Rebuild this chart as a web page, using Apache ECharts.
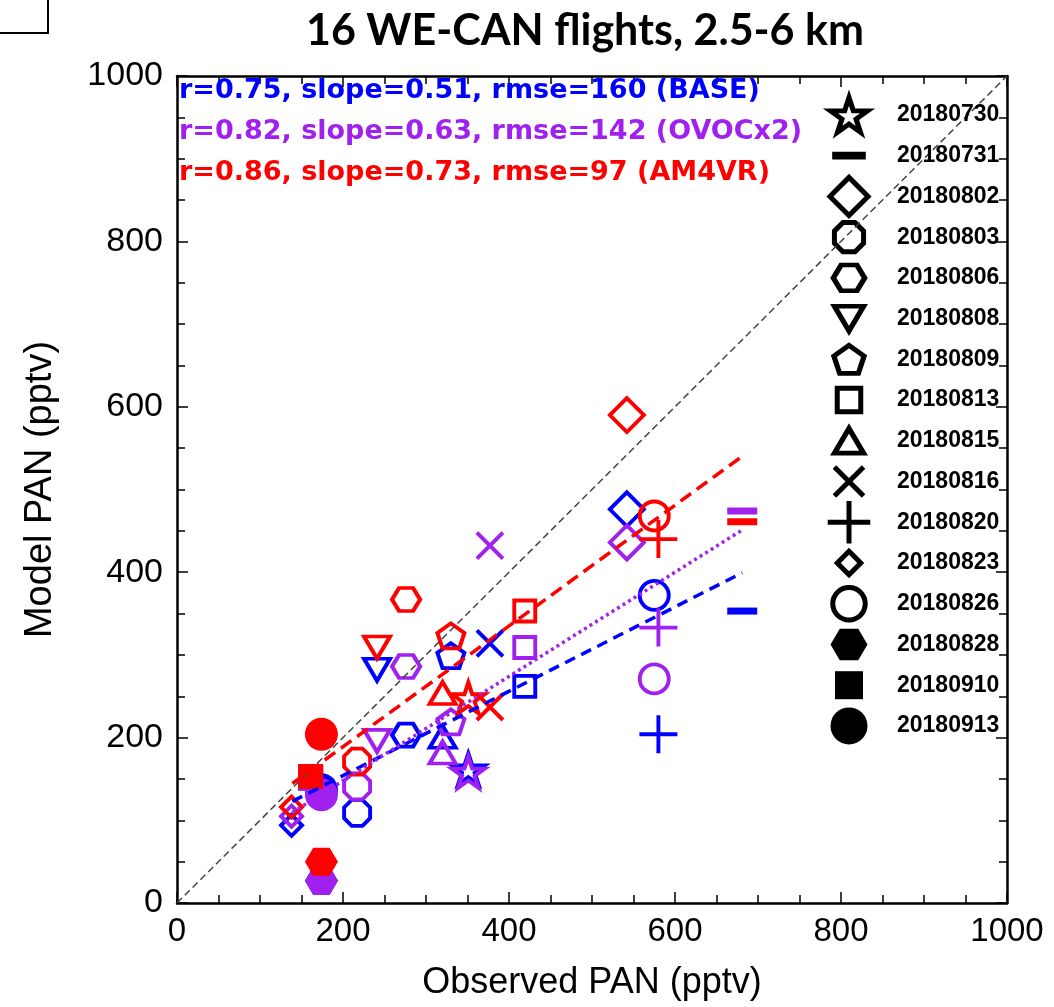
<!DOCTYPE html>
<html>
<head>
<meta charset="utf-8">
<script src="https://cdn.jsdelivr.net/npm/echarts@6.0.0/dist/echarts.min.js"></script>
<style>
  html, body { margin: 0; padding: 0; background: #fff; }
  #chart { width: 1054px; height: 1007px; }
</style>
</head>
<body>
<div id="chart"></div>
<script>
// WE-CAN flights (2.5-6 km): observed vs modelled PAN, one marker shape per flight
const flights = ['20180730', '20180731', '20180802', '20180803', '20180806', '20180808',
  '20180809', '20180813', '20180815', '20180816', '20180820', '20180823',
  '20180826', '20180828', '20180910', '20180913'];
const flightMarkers = ['star', 'dash', 'diamond', 'octagon', 'hexagon', 'triangleDown',
  'pentagon', 'square', 'triangle', 'cross', 'plus', 'diamondSmall',
  'circle', 'hexagonFilled', 'squareFilled', 'circleFilled'];

// observed PAN (pptv), shared by all model runs
const observed = [351, 681, 542, 217, 276, 241, 330, 419, 320, 377, 580, 138, 575, 174, 161, 174];
// modelled PAN (pptv) per run
const baseModel  = [162, 353, 476, 109, 203, 282, 299, 262, 201, 314, 204, 94, 372, 27, 151, 137];
const ovocModel  = [158, 474, 436, 141, 286, 196, 219, 309, 182, 432, 333, 105, 271, 27, 151, 131];
const am4vrModel = [248, 461, 590, 171, 367, 309, 323, 353, 254, 237, 440, 116, 468, 50, 153, 204];

// fit statistics reported for each run
const runNames = ['BASE', 'OVOCx2', 'AM4VR'];
const fitR = [0.75, 0.82, 0.86];
const fitSlope = [0.51, 0.63, 0.73];
const fitIntercept = [52, 22, 43];
const fitRmse = [160, 142, 97];
const fitRange = [139, 681];

const axisTicks = [0, 200, 400, 600, 800, 1000];

const runColors = ['#0000FF', '#A020F0', '#FF0000'];

const MARKERS = {
  star:          { symbol: 'path://M50 0L61.23 34.55L97.55 34.55L68.16 55.9L79.39 90.45L50 69.1L20.61 90.45L31.84 55.9L2.45 34.55L38.77 34.55Z', size: [33, 31], filled: false },
  dash:          { symbol: 'rect', size: [30, 7], filled: true },
  diamond:       { symbol: 'diamond', size: [34, 34], filled: false },
  octagon:       { symbol: 'path://M29.3 0L70.7 0L100 29.3L100 70.7L70.7 100L29.3 100L0 70.7L0 29.3Z', size: [26, 26], filled: false },
  hexagon:       { symbol: 'path://M25 0L75 0L100 43.3L75 86.6L25 86.6L0 43.3Z', size: [28, 23], filled: false },
  triangleDown:  { symbol: 'path://M0 0L100 0L50 86.6Z', size: [26, 22], filled: false },
  pentagon:      { symbol: 'path://M50 0L97.55 34.55L79.39 90.45L20.61 90.45L2.45 34.55Z', size: [27, 25], filled: false },
  square:        { symbol: 'rect', size: [21, 21], filled: false },
  triangle:      { symbol: 'path://M50 0L100 86.6L0 86.6Z', size: [26, 22], filled: false },
  cross:         { symbol: 'path://M0 0L100 100M100 0L0 100', size: [26, 26], filled: false },
  plus:          { symbol: 'path://M50 0L50 100M0 50L100 50', size: [38, 38], filled: false },
  diamondSmall:  { symbol: 'diamond', size: [21, 21], filled: false },
  circle:        { symbol: 'circle', size: [29, 29], filled: false },
  hexagonFilled: { symbol: 'path://M25 0L75 0L100 43.3L75 86.6L25 86.6L0 43.3Z', size: [33, 28], filled: true },
  squareFilled:  { symbol: 'rect', size: [25, 25], filled: true },
  circleFilled:  { symbol: 'circle', size: [33, 33], filled: true }
};

function markerStyle(key, color, scale, stroke) {
  const m = MARKERS[key];
  return {
    symbol: m.symbol,
    symbolSize: m.size.map(v => v * scale),
    itemStyle: m.filled
      ? { color: color, borderWidth: 0, opacity: 1 }
      : { color: 'rgba(0,0,0,0)', borderColor: color, borderWidth: stroke, opacity: 1 }
  };
}

function runScatter(values, idx) {
  return {
    type: 'scatter', name: runNames[idx], xAxisIndex: 0, yAxisIndex: 0,
    silent: true, animation: false,
    data: observed.map((x, i) => Object.assign({ value: [x, values[i]] },
      markerStyle(flightMarkers[i], runColors[idx], 1, 3.9)))
  };
}

function fitLine(idx, dash, width) {
  return {
    type: 'line', xAxisIndex: 0, yAxisIndex: 0, silent: true, animation: false,
    symbol: 'none',
    data: fitRange.map(x => [x, fitIntercept[idx] + fitSlope[idx] * x]),
    lineStyle: { color: runColors[idx], width: width, type: dash, cap: 'butt' }
  };
}

const FONT = 'Liberation Sans, Arial, sans-serif';

function frameAxis(extra) {
  return Object.assign({
    type: 'value', min: axisTicks[0], max: axisTicks[axisTicks.length - 1],
    interval: axisTicks[1] - axisTicks[0],
    axisLine: { show: true, onZero: false, lineStyle: { color: '#000', width: 2.5 } },
    axisTick: { show: true, inside: true, length: 11, lineStyle: { color: '#000', width: 1.5 } },
    minorTick: { show: true, splitNumber: 4, length: 8, lineStyle: { color: '#000', width: 1.5 } },
    splitLine: { show: false },
    minorSplitLine: { show: false }
  }, extra);
}

const plainNumber = v => String(v);

const statsLines = runNames.map((n, i) =>
  'r=' + fitR[i].toFixed(2) + ', slope=' + fitSlope[i].toFixed(2) + ', rmse=' + fitRmse[i] + ' (' + n + ')');

const chart = echarts.init(document.getElementById('chart'), null, { renderer: 'canvas' });

chart.setOption({
  backgroundColor: '#fff',
  animation: false,
  grid: [
    { left: 177, top: 76, width: 830, height: 827, show: false },
    { left: 820, top: 94.6, width: 58, height: 651.7, show: false }
  ],
  xAxis: [
    frameAxis({
      gridIndex: 0, position: 'bottom',
      axisLabel: { show: true, fontFamily: FONT, fontSize: 33, color: '#000', margin: 12, formatter: plainNumber },
      name: 'Observed PAN (pptv)', nameLocation: 'middle', nameGap: 62,
      nameTextStyle: { fontFamily: FONT, fontSize: 36, color: '#000' }
    }),
    frameAxis({ gridIndex: 0, position: 'top', axisLabel: { show: false } }),
    { gridIndex: 1, type: 'value', min: 0, max: 1, show: false }
  ],
  yAxis: [
    frameAxis({
      gridIndex: 0, position: 'left',
      axisLabel: { show: true, fontFamily: FONT, fontSize: 34, color: '#000', margin: 14, formatter: plainNumber },
      name: 'Model PAN (pptv)', nameLocation: 'middle', nameGap: 117, nameRotate: 90,
      nameTextStyle: { fontFamily: FONT, fontSize: 38, color: '#000' }
    }),
    frameAxis({ gridIndex: 0, position: 'right', axisLabel: { show: false } }),
    {
      gridIndex: 1, type: 'category', data: flights, inverse: true, position: 'right', z: 5,
      axisLine: { show: false }, axisTick: { show: false }, splitLine: { show: false },
      axisLabel: { fontFamily: FONT, fontWeight: 'bold', fontSize: 23, color: '#000', margin: 19 }
    }
  ],
  series: [
    {
      type: 'line', xAxisIndex: 0, yAxisIndex: 0, silent: true, symbol: 'none',
      data: [[axisTicks[0], axisTicks[0]], [axisTicks[5], axisTicks[5]]],
      lineStyle: { color: '#444', width: 1.5, type: [7, 4] }
    },
    runScatter(baseModel, 0),
    fitLine(0, [11, 7], 3.5),
    runScatter(ovocModel, 1),
    fitLine(1, [3, 3.5], 3.5),
    runScatter(am4vrModel, 2),
    fitLine(2, [13, 7], 3.5),
    {
      type: 'scatter', xAxisIndex: 2, yAxisIndex: 2, silent: true,
      data: flights.map((f, i) => Object.assign({ value: [0.5, i] },
        markerStyle(flightMarkers[i], '#000', 1.12, 5)))
    }
  ],
  graphic: [
    {
      type: 'text', x: 585, y: 31, silent: true,
      style: { text: '16 WE-CAN flights, 2.5-6 km', fill: '#000', align: 'center', verticalAlign: 'middle',
        fontFamily: 'Lato, Open Sans, sans-serif', fontWeight: 'bold', fontSize: 43 }
    },
    {
      type: 'polyline', silent: true,
      shape: { points: [[0, 33], [48, 33], [48, 0]] },
      style: { stroke: '#000', lineWidth: 2, fill: null }
    }
  ].concat(statsLines.map((t, i) => ({
    type: 'text', x: 179, y: 91 + i * 41, silent: true, z: 10,
    style: { text: t, fill: runColors[i], align: 'left', verticalAlign: 'middle',
      fontFamily: 'DejaVu Sans, sans-serif', fontWeight: 'bold', fontSize: 27 }
  })))
});
</script>
</body>
</html>
